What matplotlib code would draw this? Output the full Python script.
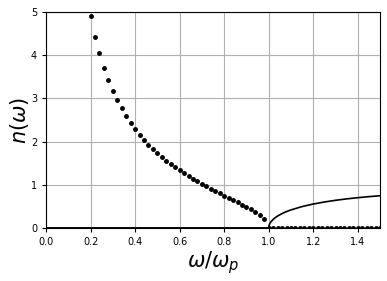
import matplotlib
matplotlib.use("Agg")
import matplotlib.pyplot as plt

# Imaginary-part dots (omega < omega_p)
w_below = [0.20, 0.22, 0.24, 0.26, 0.28, 0.30, 0.32, 0.34, 0.36, 0.38,
           0.40, 0.42, 0.44, 0.46, 0.48, 0.50, 0.52, 0.54, 0.56, 0.58,
           0.60, 0.62, 0.64, 0.66, 0.68, 0.70, 0.72, 0.74, 0.76, 0.78,
           0.80, 0.82, 0.84, 0.86, 0.88, 0.90, 0.92, 0.94, 0.96, 0.98]
n_imag_below = [4.90, 4.43, 4.05, 3.71, 3.43, 3.18, 2.96, 2.77, 2.59, 2.43,
                2.29, 2.16, 2.04, 1.93, 1.83, 1.73, 1.64, 1.56, 1.48, 1.40,
                1.33, 1.27, 1.20, 1.14, 1.08, 1.02, 0.96, 0.91, 0.86, 0.80,
                0.75, 0.70, 0.65, 0.59, 0.54, 0.48, 0.43, 0.36, 0.29, 0.20]

# Imaginary-part dots (omega >= omega_p), all zero
w_above_dots = [1.00, 1.02, 1.04, 1.06, 1.08, 1.10, 1.12, 1.14, 1.16, 1.18,
                1.20, 1.22, 1.24, 1.26, 1.28, 1.30, 1.32, 1.34, 1.36, 1.38,
                1.40, 1.42, 1.44, 1.46, 1.48, 1.50]
n_imag_above = [0.0, 0.0, 0.0, 0.0, 0.0, 0.0, 0.0, 0.0, 0.0, 0.0,
                0.0, 0.0, 0.0, 0.0, 0.0, 0.0, 0.0, 0.0, 0.0, 0.0,
                0.0, 0.0, 0.0, 0.0, 0.0, 0.0]

# Real part (solid line)
w_real = [0.0, 0.5, 1.0, 1.0, 1.002, 1.005, 1.01, 1.02, 1.03, 1.04, 1.06, 1.08,
          1.10, 1.15, 1.20, 1.25, 1.30, 1.35, 1.40, 1.45, 1.50]
n_real = [0.0, 0.0, 0.0, 0.0, 0.063, 0.100, 0.140, 0.197, 0.240, 0.275, 0.332, 0.378,
          0.417, 0.494, 0.553, 0.600, 0.639, 0.672, 0.700, 0.724, 0.745]

xticks = [0.0, 0.2, 0.4, 0.6, 0.8, 1.0, 1.2, 1.4]
yticks = [0, 1, 2, 3, 4, 5]

fig = plt.figure(figsize=(3.87, 2.81), dpi=100)
ax = fig.add_axes([0.119, 0.189, 0.863, 0.768])

ax.plot(w_real, n_real, color="black", linewidth=1.2, zorder=3)
ax.plot(w_below, n_imag_below, linestyle="none", marker="o", markersize=2.5,
        color="black", zorder=4)
ax.plot(w_above_dots, n_imag_above, linestyle="none", marker="o", markersize=2.5,
        color="black", zorder=4)

ax.set_xlim(0, 1.5)
ax.set_ylim(0, 5)
ax.set_xticks(xticks)
ax.set_yticks(yticks)
ax.tick_params(labelsize=7, length=3, width=0.8)
ax.grid(True, color="#b0b0b0", linewidth=0.8)
ax.set_axisbelow(True)
ax.set_xlabel(r"$\omega/\omega_p$", fontsize=15, labelpad=2)
ax.set_ylabel(r"$n(\omega)$", fontsize=15, labelpad=0)

fig.savefig("out.png", dpi=100)
